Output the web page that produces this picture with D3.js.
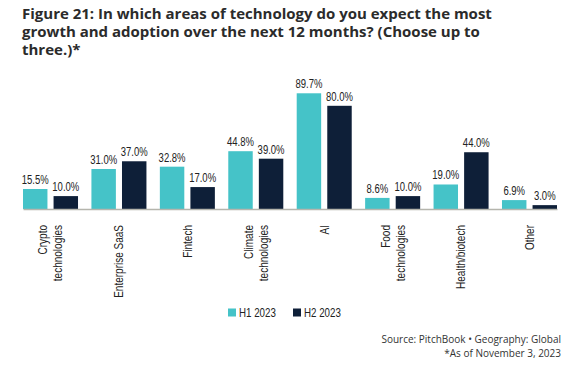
<!DOCTYPE html>
<html>
<head>
<meta charset="utf-8">
<script src="https://cdn.jsdelivr.net/npm/d3@7"></script>
<style>
  body { margin: 0; background: #fff; }
  .narrow { font-family: "Liberation Sans", Arial, sans-serif; }
</style>
</head>
<body>
<div id="chart"></div>
<script>
// Chart data
var categories = ["Crypto\ntechnologies", "Enterprise SaaS", "Fintech", "Climate\ntechnologies",
  "AI", "Food\ntechnologies", "Health/biotech", "Other"];
var seriesNames = ["H1 2023", "H2 2023"];
var h1Values = [15.5, 31.0, 32.8, 44.8, 89.7, 8.6, 19.0, 6.9];
var h2Values = [10.0, 37.0, 17.0, 39.0, 80.0, 10.0, 44.0, 3.0];
var seriesColors = ["#45c3c8", "#0e1f38"];

var titleLines = [
  "Figure 21: In which areas of technology do you expect the most",
  "growth and adoption over the next 12 months? (Choose up to",
  "three.)*"
];

// SVG size
var svg_Width = 577;
var svg_Height = 371;

// squeeze text horizontally, the source uses a condensed face
function condense(sel, f) {
  sel.each(function() {
    var w = this.getComputedTextLength();
    d3.select(this).attr("textLength", w * f).attr("lengthAdjust", "spacingAndGlyphs");
  });
}

var svg = d3.select("#chart")
  .append("svg")
  .attr("width", svg_Width)
  .attr("height", svg_Height);

// Title, one text per line
svg.selectAll(".title")
  .data(titleLines)
  .enter()
  .append("text")
  .attr("class", "title")
  .attr("x", 22)
  .attr("y", (d, i) => 18.5 + i * 18)
  .style("font-family", "'Open Sans', sans-serif")
  .style("font-weight", 700)
  .style("font-size", "15px")
  .style("fill", "#2b2b2b")
  .text(d => d);

// Rows of data for the grouped bars
var rows = categories.map(function(c, i) {
  return { cat: c, values: [h1Values[i], h2Values[i]] };
});

// Scales
var x0 = d3.scaleBand()
  .domain(categories)
  .range([23, 557])
  .paddingInner(0.196)
  .paddingOuter(0);

var x1 = d3.scaleBand()
  .domain(seriesNames)
  .range([0, x0.bandwidth()])
  .paddingInner(0.2);

var y = d3.scaleLinear()
  .domain([0, 100])
  .range([209, 80]);

// Bars
var groups = svg.selectAll(".group")
  .data(rows)
  .enter()
  .append("g")
  .attr("class", "group")
  .attr("transform", d => `translate(${x0(d.cat)}, 0)`);

groups.selectAll("rect")
  .data(d => d.values.map((v, i) => ({ name: seriesNames[i], value: v })))
  .enter()
  .append("rect")
  .attr("x", d => x1(d.name))
  .attr("y", d => y(d.value))
  .attr("width", x1.bandwidth())
  .attr("height", d => y(0) - y(d.value))
  .attr("fill", (d, i) => seriesColors[i]);

// Value labels
var valLabels = groups.selectAll(".val")
  .data(d => d.values.map((v, i) => ({ name: seriesNames[i], value: v })))
  .enter()
  .append("text")
  .attr("class", "val narrow")
  .attr("x", d => x1(d.name) + x1.bandwidth() / 2)
  .attr("y", d => y(d.value) - 5)
  .attr("text-anchor", "middle")
  .style("font-size", "12.5px")
  .style("fill", "#222")
  .text(d => d.value.toFixed(1) + "%");
condense(valLabels, 0.76);

// Baseline axis
var bottom_Axis = d3.axisBottom(x0).tickSize(0).tickFormat("");
var axisG = svg.append("g")
  .attr("transform", `translate(0, ${y(0)})`)
  .call(bottom_Axis);
axisG.select(".domain").attr("stroke", "#b5b5ad").attr("stroke-width", 1.5);

// Rotated category labels
var catLabels = svg.selectAll(".cat")
  .data(categories)
  .enter()
  .append("text")
  .attr("class", "cat narrow")
  .attr("transform", d => `translate(${x0(d) + x0.bandwidth() / 2}, 225) rotate(-90)`)
  .attr("text-anchor", "end")
  .style("font-size", "12.5px")
  .style("fill", "#222");

catLabels.each(function(d) {
  var lines = d.split("\n");
  var ts = d3.select(this).selectAll("tspan")
    .data(lines)
    .enter()
    .append("tspan")
    .attr("x", 0)
    .attr("y", (l, i) => (i - (lines.length - 1) / 2) * 15)
    .attr("dy", "0.35em")
    .text(l => l);
  condense(ts, 0.8);
});

// Legend
var legend = svg.append("g").attr("class", "narrow");
var legendX = [228, 293];
seriesNames.forEach(function(name, i) {
  legend.append("rect")
    .attr("x", legendX[i])
    .attr("y", 308.5)
    .attr("width", 8)
    .attr("height", 8)
    .attr("fill", seriesColors[i]);
  var t = legend.append("text")
    .attr("x", legendX[i] + 11)
    .attr("y", 317)
    .style("font-size", "12.5px")
    .style("fill", "#222")
    .text(name);
  condense(t, 0.78);
});

// Source notes
svg.append("text")
  .attr("x", 561)
  .attr("y", 343)
  .attr("text-anchor", "end")
  .style("font-family", "'Open Sans', sans-serif")
  .style("font-size", "10px")
  .style("fill", "#333")
  .text("Source: PitchBook  \u2022  Geography: Global");

svg.append("text")
  .attr("x", 561)
  .attr("y", 357)
  .attr("text-anchor", "end")
  .style("font-family", "'Open Sans', sans-serif")
  .style("font-size", "10px")
  .style("fill", "#333")
  .text("*As of November 3, 2023");
</script>
</body>
</html>
